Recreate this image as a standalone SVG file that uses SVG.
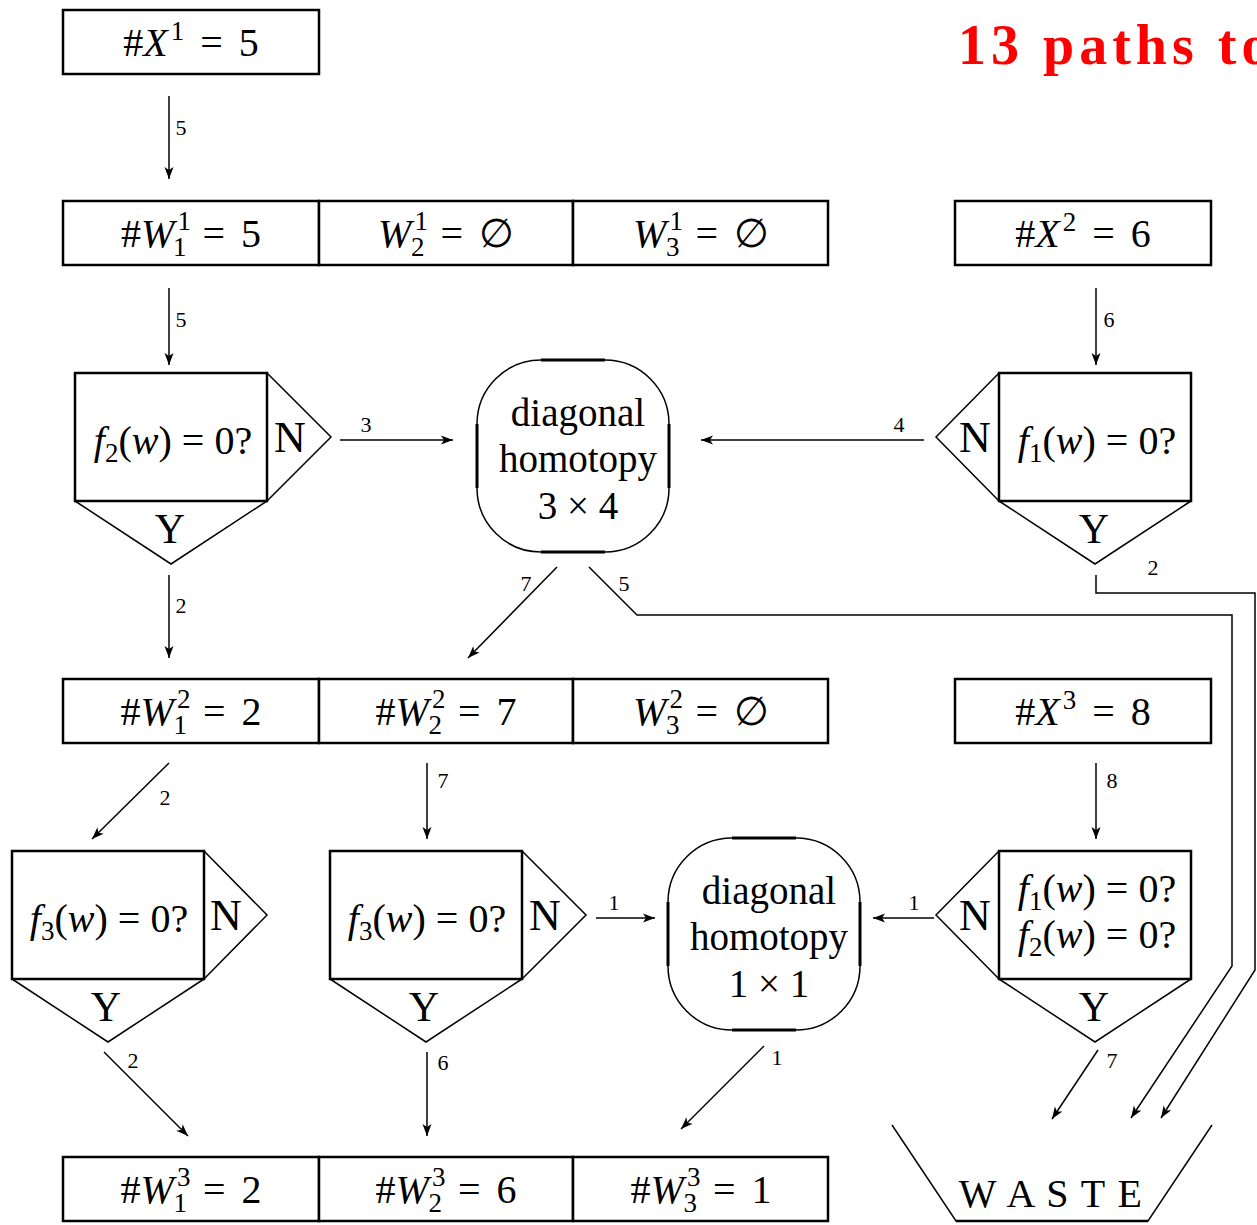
<svg xmlns="http://www.w3.org/2000/svg" width="1257" height="1225" viewBox="0 0 1257 1225">
  <style>
    text { font-family: "Liberation Serif", "DejaVu Serif", serif; fill: #000; }
    .t { font-size: 40px; text-anchor: middle; word-spacing: 6px; }
    .d { font-size: 40px; text-anchor: middle; }
    .h { font-size: 39px; text-anchor: middle; }
    .i { font-style: italic; }
    .s { font-size: 27px; }
    .n { font-size: 44px; text-anchor: middle; }
    .y { font-size: 42px; text-anchor: middle; }
    .lbl { font-size: 22px; text-anchor: middle; }
    .box { fill: #fff; stroke: #000; stroke-width: 2.5; }
    .tri { fill: none; stroke: #000; stroke-width: 1.5; stroke-linejoin: miter; }
    .rr { fill: none; stroke: #000; stroke-width: 1.5; }
    .rrs { stroke: #000; stroke-width: 3; }
    .con { fill: none; stroke: #000; stroke-width: 1.5; marker-end: url(#ah); }
    .title { font-family: "Liberation Serif", "DejaVu Serif", serif; font-size: 56px; font-weight: bold; fill: #ff0000; letter-spacing: 5px; }
  </style>
  <defs>
    <marker id="ah" viewBox="-13 -6 14 12" refX="0" refY="0" markerWidth="14" markerHeight="12" markerUnits="userSpaceOnUse" orient="auto">
      <path d="M0,0 L-12,-4.5 L-9,0 L-12,4.5 Z" fill="#000"/>
    </marker>
  </defs>

  <rect width="1257" height="1225" fill="#fff"/>

  <text class="title" x="958" y="64">13 paths to</text>

  <!-- input and witness-set boxes -->
  <g id="x1">
    <rect class="box" x="63" y="10" width="256" height="64"/>
    <text class="t" x="191" y="56">#<tspan class="i">X</tspan><tspan class="s" dx="3" dy="-16">1</tspan><tspan dy="16"> = 5</tspan></text>
  </g>
  <g id="w11">
    <rect class="box" x="63" y="201" width="256" height="64"/>
    <text class="t" x="191" y="247">#<tspan class="i">W</tspan><tspan class="s" dx="3" dy="-17">1</tspan><tspan class="s" dx="-17" dy="26">1</tspan><tspan dy="-9"> = 5</tspan></text>
  </g>
  <g id="w21">
    <rect class="box" x="319" y="201" width="254" height="64"/>
    <text class="t" x="446" y="247"><tspan class="i">W</tspan><tspan class="s" dx="3" dy="-17">1</tspan><tspan class="s" dx="-17" dy="26">2</tspan><tspan dy="-9"> = ∅</tspan></text>
  </g>
  <g id="w31">
    <rect class="box" x="573" y="201" width="255" height="64"/>
    <text class="t" x="701" y="247"><tspan class="i">W</tspan><tspan class="s" dx="3" dy="-17">1</tspan><tspan class="s" dx="-17" dy="26">3</tspan><tspan dy="-9"> = ∅</tspan></text>
  </g>
  <g id="x2">
    <rect class="box" x="955" y="201" width="256" height="64"/>
    <text class="t" x="1083" y="247">#<tspan class="i">X</tspan><tspan class="s" dx="3" dy="-16">2</tspan><tspan dy="16"> = 6</tspan></text>
  </g>

  <g id="w12">
    <rect class="box" x="63" y="679" width="256" height="64"/>
    <text class="t" x="191" y="725">#<tspan class="i">W</tspan><tspan class="s" dx="3" dy="-17">2</tspan><tspan class="s" dx="-17" dy="26">1</tspan><tspan dy="-9"> = 2</tspan></text>
  </g>
  <g id="w22">
    <rect class="box" x="319" y="679" width="254" height="64"/>
    <text class="t" x="446" y="725">#<tspan class="i">W</tspan><tspan class="s" dx="3" dy="-17">2</tspan><tspan class="s" dx="-17" dy="26">2</tspan><tspan dy="-9"> = 7</tspan></text>
  </g>
  <g id="w32">
    <rect class="box" x="573" y="679" width="255" height="64"/>
    <text class="t" x="701" y="725"><tspan class="i">W</tspan><tspan class="s" dx="3" dy="-17">2</tspan><tspan class="s" dx="-17" dy="26">3</tspan><tspan dy="-9"> = ∅</tspan></text>
  </g>
  <g id="x3">
    <rect class="box" x="955" y="679" width="256" height="64"/>
    <text class="t" x="1083" y="725">#<tspan class="i">X</tspan><tspan class="s" dx="3" dy="-16">3</tspan><tspan dy="16"> = 8</tspan></text>
  </g>

  <g id="w13">
    <rect class="box" x="63" y="1157" width="256" height="64"/>
    <text class="t" x="191" y="1203">#<tspan class="i">W</tspan><tspan class="s" dx="3" dy="-17">3</tspan><tspan class="s" dx="-17" dy="26">1</tspan><tspan dy="-9"> = 2</tspan></text>
  </g>
  <g id="w23">
    <rect class="box" x="319" y="1157" width="254" height="64"/>
    <text class="t" x="446" y="1203">#<tspan class="i">W</tspan><tspan class="s" dx="3" dy="-17">3</tspan><tspan class="s" dx="-17" dy="26">2</tspan><tspan dy="-9"> = 6</tspan></text>
  </g>
  <g id="w33">
    <rect class="box" x="573" y="1157" width="255" height="64"/>
    <text class="t" x="701" y="1203">#<tspan class="i">W</tspan><tspan class="s" dx="3" dy="-17">3</tspan><tspan class="s" dx="-17" dy="26">3</tspan><tspan dy="-9"> = 1</tspan></text>
  </g>

  <!-- membership tests -->
  <g id="test-f2">
    <path class="tri" d="M267,373 L331,437 L267,501 M75,501 L171,564 L267,501"/>
    <rect class="box" x="75" y="373" width="192" height="128" fill="none"/>
    <text class="d" x="173" y="454"><tspan class="i">f</tspan><tspan class="s" dy="8">2</tspan><tspan dy="-8">(</tspan><tspan class="i">w</tspan>) = 0?</text>
    <text class="n" x="290" y="452">N</text>
    <text class="y" x="170" y="543">Y</text>
  </g>
  <g id="test-f1">
    <path class="tri" d="M999,373 L936,437 L999,501 M999,501 L1095,564 L1191,501"/>
    <rect class="box" x="999" y="373" width="192" height="128" fill="none"/>
    <text class="d" x="1097" y="454"><tspan class="i">f</tspan><tspan class="s" dy="8">1</tspan><tspan dy="-8">(</tspan><tspan class="i">w</tspan>) = 0?</text>
    <text class="n" x="975" y="452">N</text>
    <text class="y" x="1094" y="543">Y</text>
  </g>
  <g id="test-f3a">
    <path class="tri" d="M204,851 L267,915 L204,979 M12,979 L108,1042 L204,979"/>
    <rect class="box" x="12" y="851" width="192" height="128" fill="none"/>
    <text class="d" x="109" y="932"><tspan class="i">f</tspan><tspan class="s" dy="8">3</tspan><tspan dy="-8">(</tspan><tspan class="i">w</tspan>) = 0?</text>
    <text class="n" x="226" y="930">N</text>
    <text class="y" x="106" y="1021">Y</text>
  </g>
  <g id="test-f3b">
    <path class="tri" d="M522,851 L586,915 L522,979 M330,979 L426,1042 L522,979"/>
    <rect class="box" x="330" y="851" width="192" height="128" fill="none"/>
    <text class="d" x="427" y="932"><tspan class="i">f</tspan><tspan class="s" dy="8">3</tspan><tspan dy="-8">(</tspan><tspan class="i">w</tspan>) = 0?</text>
    <text class="n" x="545" y="930">N</text>
    <text class="y" x="424" y="1021">Y</text>
  </g>
  <g id="test-f1f2">
    <path class="tri" d="M999,851 L936,915 L999,979 M999,979 L1095,1042 L1191,979"/>
    <rect class="box" x="999" y="851" width="192" height="128" fill="none"/>
    <text class="d" x="1097" y="902"><tspan class="i">f</tspan><tspan class="s" dy="8">1</tspan><tspan dy="-8">(</tspan><tspan class="i">w</tspan>) = 0?</text>
    <text class="d" x="1097" y="948"><tspan class="i">f</tspan><tspan class="s" dy="8">2</tspan><tspan dy="-8">(</tspan><tspan class="i">w</tspan>) = 0?</text>
    <text class="n" x="975" y="930">N</text>
    <text class="y" x="1094" y="1021">Y</text>
  </g>

  <!-- diagonal homotopies -->
  <g id="homotopy-3x4">
    <rect class="rr" x="477" y="360" width="192" height="192" rx="64" ry="64"/>
    <path class="rrs" d="M541,360 H605 M541,552 H605 M477,424 V488 M669,424 V488"/>
    <text class="h" x="578" y="426">diagonal</text>
    <text class="h" x="578" y="472">homotopy</text>
    <text class="h" x="578" y="519">3 × 4</text>
  </g>
  <g id="homotopy-1x1">
    <rect class="rr" x="668" y="838" width="192" height="192" rx="64" ry="64"/>
    <path class="rrs" d="M732,838 H796 M732,1030 H796 M668,902 V966 M860,902 V966"/>
    <text class="h" x="769" y="904">diagonal</text>
    <text class="h" x="769" y="950">homotopy</text>
    <text class="h" x="769" y="997">1 × 1</text>
  </g>

  <!-- discarded points -->
  <g id="waste">
    <path class="tri" d="M892,1125 L956,1221 L1148,1221 L1212,1125"/>
    <path d="M956,1221 H1148" stroke="#000" stroke-width="2.5"/>
    <text x="1051" y="1207" style="font-size:40px; text-anchor:middle; letter-spacing:1.5px">W A S T E</text>
  </g>

  <!-- connectors -->
  <g id="connectors">
    <path class="con" d="M169,96 V179"/>
    <path class="con" d="M169,288 V365"/>
    <path class="con" d="M340,440 H453"/>
    <path class="con" d="M924,440 H701"/>
    <path class="con" d="M1096,288 V365"/>
    <path class="con" d="M169,575 V658"/>
    <path class="con" d="M557,567 L468,658"/>
    <path class="con" d="M589,567 L637,615 H1232 V966 L1131,1118"/>
    <path class="con" d="M1096,575 V593 H1255 V970 L1161,1118"/>
    <path class="con" d="M169,763 L92,839"/>
    <path class="con" d="M427,763 V839"/>
    <path class="con" d="M1096,763 V839"/>
    <path class="con" d="M596,918 H655"/>
    <path class="con" d="M934,918 H873"/>
    <path class="con" d="M104,1052 L188,1136"/>
    <path class="con" d="M427,1052 V1136"/>
    <path class="con" d="M764,1046 L681,1129"/>
    <path class="con" d="M1098,1050 L1052,1119"/>

    <text class="lbl" x="181" y="135">5</text>
    <text class="lbl" x="181" y="327">5</text>
    <text class="lbl" x="366" y="432">3</text>
    <text class="lbl" x="899" y="432">4</text>
    <text class="lbl" x="1109" y="327">6</text>
    <text class="lbl" x="181" y="613">2</text>
    <text class="lbl" x="526" y="591">7</text>
    <text class="lbl" x="624" y="591">5</text>
    <text class="lbl" x="1153" y="575">2</text>
    <text class="lbl" x="165" y="805">2</text>
    <text class="lbl" x="443" y="788">7</text>
    <text class="lbl" x="1112" y="788">8</text>
    <text class="lbl" x="614" y="910">1</text>
    <text class="lbl" x="914" y="910">1</text>
    <text class="lbl" x="133" y="1068">2</text>
    <text class="lbl" x="443" y="1070">6</text>
    <text class="lbl" x="777" y="1065">1</text>
    <text class="lbl" x="1112" y="1068">7</text>
  </g>
</svg>
